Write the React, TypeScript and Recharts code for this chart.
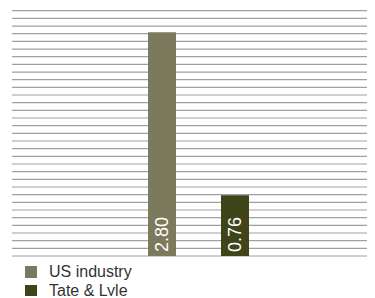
import React from "react";
import { BarChart, Bar, XAxis, YAxis, CartesianGrid, Legend, LabelList } from "recharts";

const categories = ["Value"];
const usIndustry = [2.8];
const tateLyle = [0.76];
const seriesNames = ["US industry", "Tate & Lyle"];
const seriesColors = ["#7b7a5c", "#40441a"];
const valueLabels = [["2.80"], ["0.76"]];

const yMax = 3.07;
const gridCount = 32;
const yTicks = Array.from({ length: gridCount + 1 }, (_, i) => (yMax * i) / gridCount);

const data = categories.map((c, i) => ({
  name: c,
  us: usIndustry[i],
  tl: tateLyle[i],
  usLabel: valueLabels[0][i],
  tlLabel: valueLabels[1][i],
}));

const FONT = "'Liberation Sans', Arial, Helvetica, sans-serif";

const RotLabel = (props: any) => {
  const { x, y, width, height, value } = props;
  const cx = Number(x) + Number(width) / 2;
  const px = cx + 6.3;
  const py = Number(y) + Number(height) - 4;
  return (
    <text
      x={px}
      y={py}
      transform={`rotate(-90, ${px}, ${py})`}
      fill="#ffffff"
      fontSize={18}
      fontFamily={FONT}
      textAnchor="start"
    >
      {value}
    </text>
  );
};

const LegendContent = () => (
  <div style={{ height: 40, paddingTop: 6, boxSizing: "border-box", fontFamily: FONT }}>
    {seriesNames.map((n, i) => (
      <div key={n} style={{ display: "flex", alignItems: "center", height: 19, paddingLeft: 17 }}>
        <div style={{ width: 12, height: 12, background: seriesColors[i], marginRight: 12 }} />
        <span style={{ fontSize: 16, color: "#333333", lineHeight: "19px" }}>{n}</span>
      </div>
    ))}
  </div>
);

export default function App() {
  return (
    <BarChart
      width={367}
      height={288}
      data={data}
      margin={{ top: 2.7, right: 0, bottom: 0, left: 4 }}
      barGap={45}
      barSize={28}
    >
      <CartesianGrid vertical={false} stroke="#a0a0a0" strokeWidth={1.2} />
      <XAxis dataKey="name" hide padding={{ left: 10, right: 0 }} />
      <YAxis hide domain={[0, yMax]} ticks={yTicks} type="number" interval={0} />
      <Legend
        verticalAlign="bottom"
        align="left"
        content={<LegendContent />}
        wrapperStyle={{ left: 0, width: 200, height: 40 }}
      />
      <Bar dataKey="us" name={seriesNames[0]} fill={seriesColors[0]} isAnimationActive={false}>
        <LabelList dataKey="usLabel" content={<RotLabel />} />
      </Bar>
      <Bar dataKey="tl" name={seriesNames[1]} fill={seriesColors[1]} isAnimationActive={false}>
        <LabelList dataKey="tlLabel" content={<RotLabel />} />
      </Bar>
    </BarChart>
  );
}
